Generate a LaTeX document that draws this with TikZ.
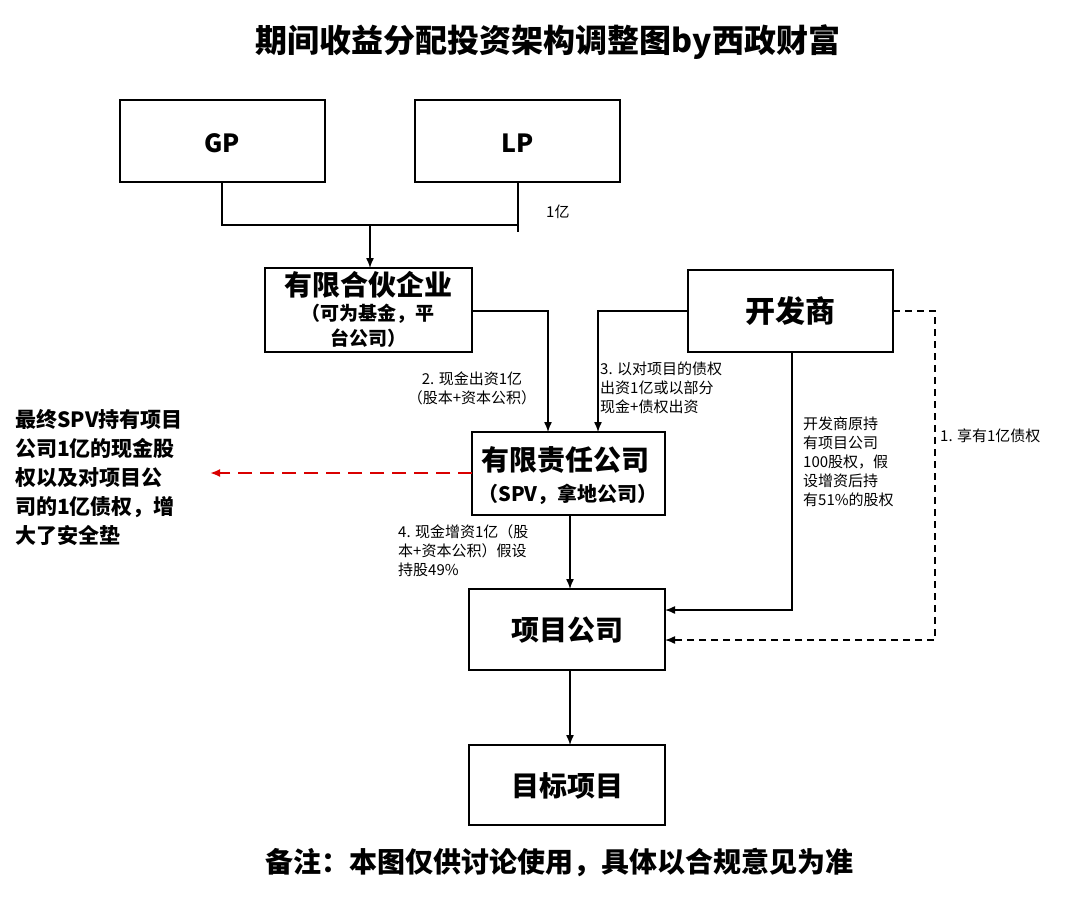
\documentclass[tikz,border=0pt]{standalone}
\usepackage{fontspec}
\setmainfont{Noto Sans CJK SC}
\newfontfamily\cjk{Noto Sans CJK SC}
\usetikzlibrary{arrows.meta}
\begin{document}
\begin{tikzpicture}[x=1pt,y=-1pt,
 box/.style={draw,line width=1.6pt,inner sep=0pt},
 ln/.style={line width=1.4pt},
 ar/.style={line width=1.4pt,-{Latex[length=10pt,width=8pt]}},
 sm/.style={font=\fontsize{15}{19}\selectfont,align=left,anchor=north west,inner sep=0pt},
 big/.style={font=\fontsize{25}{30}\selectfont\bfseries}]
\useasboundingbox (0,0) rectangle (1080,903);
\node[font=\fontsize{32}{36}\selectfont\bfseries] (title) at (548,42) {期间收益分配投资架构调整图by西政财富};
\draw[box] (120,100) rectangle (325,182); \node[big] (gp) at (222,143) {GP};
\draw[box] (415,100) rectangle (620,182); \node[big] (lp) at (518,143) {LP};
\draw[ln] (222,182) -- (222,225) -- (518,225);
\draw[ln] (518,182) -- (518,232);
\node[sm] (y1) at (546,205) {1亿};
\draw[ar] (370,225) -- (370,268);
\draw[box] (265,268) rectangle (472,352);
\node[font=\fontsize{28}{32}\selectfont\bfseries] (hh) at (368,285) {有限合伙企业};
\node[font=\fontsize{19}{25}\selectfont\bfseries,align=center] (hh2) at (368,326) {（可为基金，平\\台公司）};
\draw[box] (688,270) rectangle (893,352); \node[font=\fontsize{30}{34}\selectfont\bfseries] (kfs) at (790,311) {开发商};
\draw[box] (472,432) rectangle (665,515);
\node[font=\fontsize{28}{32}\selectfont\bfseries] (spv) at (565,460) {有限责任公司};
\node[font=\fontsize{20}{24}\selectfont\bfseries] (spv2) at (568,494) {（SPV，拿地公司）};
\draw[box] (469,589) rectangle (665,670); \node[font=\fontsize{28}{32}\selectfont\bfseries] (xm) at (567,630) {项目公司};
\draw[box] (469,745) rectangle (665,825); \node[font=\fontsize{28}{32}\selectfont\bfseries] (mb) at (567,786) {目标项目};
\draw[ar] (472,311) -- (548,311) -- (548,432);
\draw[ar] (688,311) -- (598,311) -- (598,432);
\draw[ar] (792,352) -- (792,610) -- (665,610);
\draw[ar,dash pattern=on 7pt off 5pt] (893,311) -- (935,311) -- (935,640) -- (665,640);
\draw[ar] (570,515) -- (570,589);
\draw[ar] (570,670) -- (570,745);
\draw[ar,line width=2pt,red!85!black,dash pattern=on 14pt off 8pt] (472,473) -- (210,473);
\node[sm,align=center,anchor=north] (l2) at (472,372) {2. 现金出资1亿\\（股本+资本公积）};
\node[sm] (l3) at (600,362) {3. 以对项目的债权\\出资1亿或以部分\\现金+债权出资};
\node[sm] (l5) at (803,417) {开发商原持\\有项目公司\\100股权，假\\设增资后持\\有51\%的股权};
\node[sm] (l1) at (940,429) {1. 享有1亿债权};
\node[sm] (l4) at (398,524) {4. 现金增资1亿（股\\本+资本公积）假设\\持股49\%};
\node[font=\fontsize{21}{29}\selectfont\bfseries,align=left,anchor=north west,inner sep=0pt] (left) at (15,409) {最终SPV持有项目\\公司1亿的现金股\\权以及对项目公\\司的1亿债权，增\\大了安全垫};
\node[font=\fontsize{28}{32}\selectfont\bfseries,anchor=west] (note) at (262,862) {备注：本图仅供讨论使用，具体以合规意见为准};
\end{tikzpicture}
\end{document}
